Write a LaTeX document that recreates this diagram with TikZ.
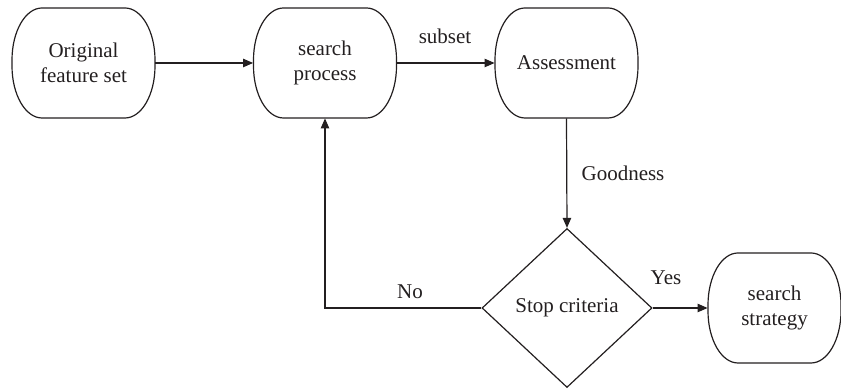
\documentclass[tikz,border=0pt]{standalone}
\usepackage{fontspec}
\setmainfont{Liberation Serif}
\newfontfamily\labelfont{Liberation Serif}
\usetikzlibrary{shapes.geometric,arrows.meta}

\definecolor{ink}{HTML}{231F20}

% Terminal box with elliptic corners: name, centre x, centre y, width, text
\newcommand\termbox[5]{%
  \node[anchorbox, minimum width={#4*0.5pt}] (#1) at (#2,#3) {#5};
  \draw[boxline]
    ({#2-#4/2+30},{#3+55}) -- ({#2+#4/2-30},{#3+55})
    arc[start angle=90,end angle=0,x radius=30,y radius=52]
    -- ({#2+#4/2},{#3-3})
    arc[start angle=0,end angle=-90,x radius=30,y radius=52]
    -- ({#2-#4/2+30},{#3-55})
    arc[start angle=-90,end angle=-180,x radius=30,y radius=52]
    -- ({#2-#4/2},{#3+3})
    arc[start angle=180,end angle=90,x radius=30,y radius=52]
    -- cycle;
}

\begin{document}
\begin{tikzpicture}[x=0.5pt,y=0.5pt,
  font=\labelfont\fontsize{10.5}{12.5}\selectfont,
  every node/.style={text=ink},
  anchorbox/.style={rectangle, draw=none, minimum height=55pt,
    inner sep=0pt, align=center},
  boxline/.style={draw=ink, line width=0.6pt},
  decision/.style={diamond, draw=ink, line width=0.6pt, inner sep=0pt,
    minimum width=85pt, minimum height=79.5pt},
  flow/.style={draw=ink, line width=0.6pt,
    -{Triangle[length=5pt,width=4.2pt]}},
  lbl/.style={inner sep=0pt}
]
\useasboundingbox (0,0) rectangle (841,389);

\termbox{orig}{83.5}{326}{143}{Original\\feature set}
\termbox{search}{325}{326}{143}{search\\process}
\termbox{assess}{566.5}{326}{143}{Assessment}
\termbox{strategy}{774.5}{81}{133}{search\\strategy}

\node[decision] (stop) at (567,81) {Stop criteria};

\draw[flow] (orig.east) -- (search.west);
\draw[flow] (search.east) -- (assess.west);
\draw[flow] (assess.south) -- (stop.north);
\draw[flow] (stop.east) -- (strategy.west);
\draw[flow] (stop.west) -| (search.south);

\node[lbl] (lsubset) at (445,353) {subset};
\node[lbl] (lgood) at (623,216) {Goodness};
\node[lbl] (lyes) at (666,111) {Yes};
\node[lbl] (lno) at (410,97) {No};
\end{tikzpicture}
\end{document}
